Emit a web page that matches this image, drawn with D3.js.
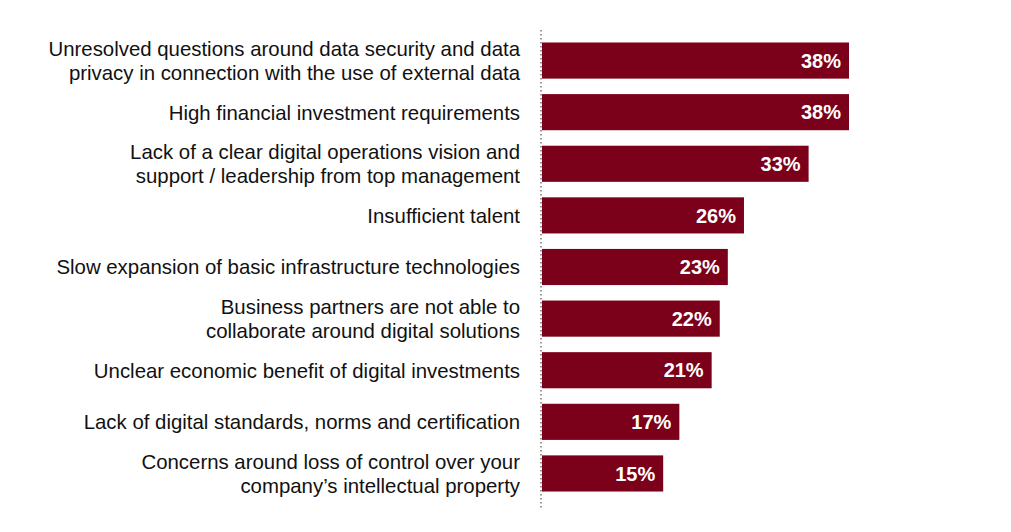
<!DOCTYPE html>
<html>
<head>
<meta charset="utf-8">
<script src="https://cdn.jsdelivr.net/npm/d3@7"></script>
<style>
    body { margin: 0; background: #fff; }
    svg { display: block; }
    text { font-family: 'Liberation Sans', Arial, Helvetica, sans-serif; }
</style>
</head>
<body>
<svg id="chart" width="1011" height="532"></svg>
<script>
// labels, one entry per line of text
const categories = [
    ['Unresolved questions around data security and data', 'privacy in connection with the use of external data'],
    ['High financial investment requirements'],
    ['Lack of a clear digital operations vision and', 'support / leadership from top management'],
    ['Insufficient talent'],
    ['Slow expansion of basic infrastructure technologies'],
    ['Business partners are not able to', 'collaborate around digital solutions'],
    ['Unclear economic benefit of digital investments'],
    ['Lack of digital standards, norms and certification'],
    ['Concerns around loss of control over your', 'company\u2019s intellectual property']
];
// bar lengths as drawn in the picture (the 26% bar is drawn a bit short)
const values = [38, 38, 33, 25, 23, 22, 21, 17, 15];
// printed value labels
const valueLabels = ['38%', '38%', '33%', '26%', '23%', '22%', '21%', '17%', '15%'];

const svg = d3.select('#chart');
const barColor = '#7b0019';

const x = d3.scaleLinear()
    .domain([0, 38])
    .range([542, 849]);

const y = d3.scaleBand()
    .domain(d3.range(values.length))
    .range([27, 507])
    .paddingInner(0.3)
    .paddingOuter(0.3);

// dotted baseline
svg.append('line')
    .attr('x1', 541)
    .attr('x2', 541)
    .attr('y1', 30)
    .attr('y2', 509)
    .attr('stroke', '#999')
    .attr('stroke-width', 2)
    .attr('stroke-dasharray', '1.5,2.5');

svg.selectAll('rect.bar')
    .data(values)
    .join('rect')
    .attr('class', 'bar')
    .attr('x', x(0))
    .attr('y', (d, i) => y(i))
    .attr('width', d => x(d) - x(0))
    .attr('height', y.bandwidth())
    .attr('fill', barColor);

svg.selectAll('text.value')
    .data(values)
    .join('text')
    .attr('class', 'value')
    .attr('x', d => x(d) - 8)
    .attr('y', (d, i) => y(i) + y.bandwidth() / 2)
    .attr('dy', '0.36em')
    .attr('text-anchor', 'end')
    .attr('fill', '#fff')
    .attr('font-weight', 'bold')
    .attr('font-size', 20)
    .text((d, i) => valueLabels[i]);

const lineHeight = 24;
svg.selectAll('text.label')
    .data(categories)
    .join('text')
    .attr('class', 'label')
    .attr('text-anchor', 'end')
    .attr('font-size', 20.4)
    .attr('fill', '#111')
    .each(function (lines, i) {
        const cy = y(i) + y.bandwidth() / 2;
        const top = cy - (lines.length - 1) * lineHeight / 2;
        d3.select(this).selectAll('tspan')
            .data(lines)
            .join('tspan')
            .attr('x', 520)
            .attr('y', (l, j) => top + j * lineHeight)
            .attr('dy', '0.36em')
            .text(l => l);
    });
</script>
</body>
</html>
